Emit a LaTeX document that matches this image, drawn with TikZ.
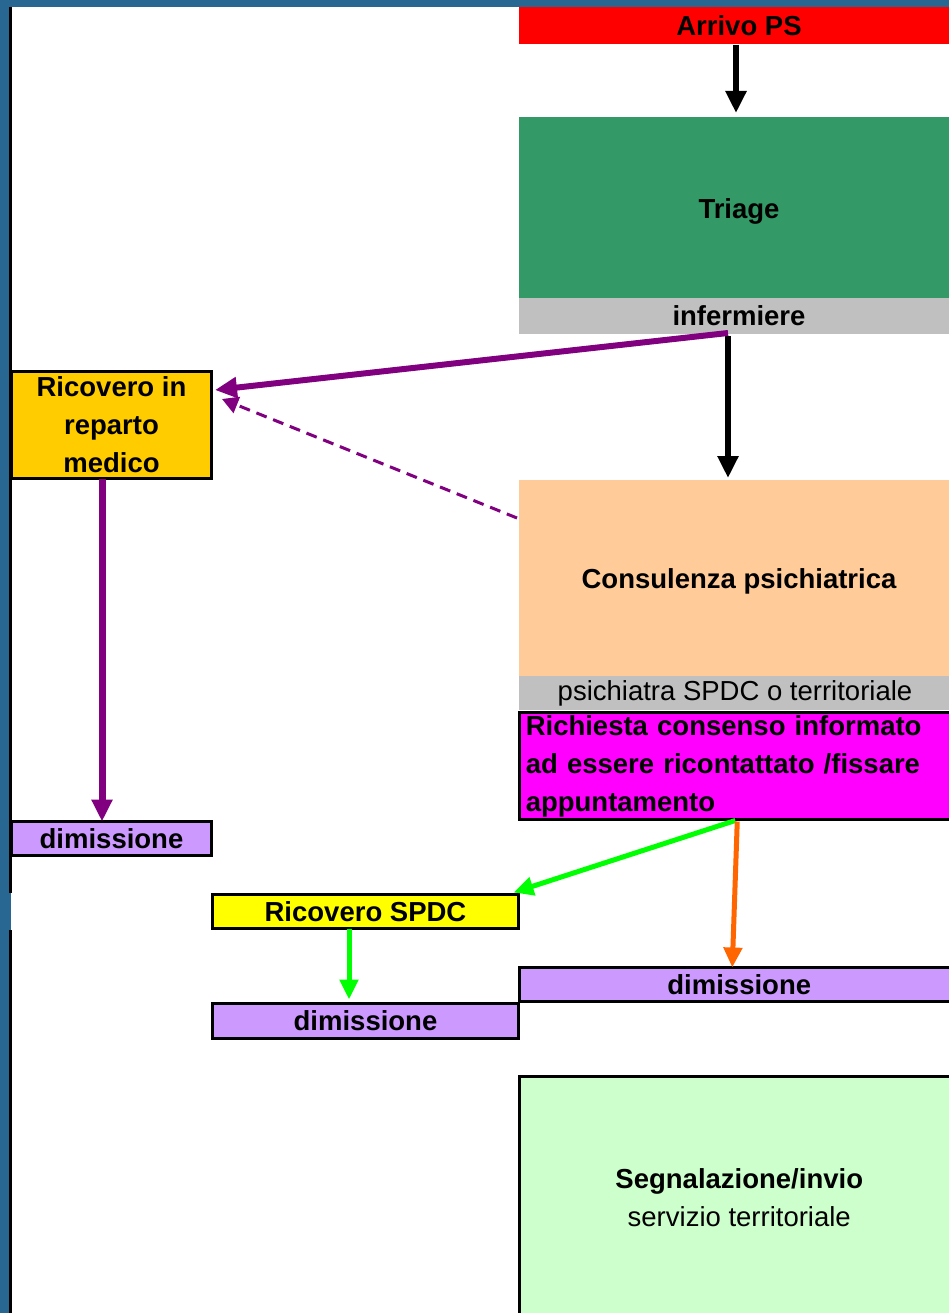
\documentclass[tikz,border=0pt]{standalone}
\usepackage{fontspec}
\setmainfont{Liberation Sans}
\usetikzlibrary{arrows.meta,calc}
\definecolor{frameblue}{HTML}{276792}
\definecolor{triagegreen}{HTML}{339966}
\definecolor{lgray}{HTML}{C0C0C0}
\definecolor{medorange}{HTML}{FFCC00}
\definecolor{peach}{HTML}{FFCC99}
\definecolor{magentabox}{HTML}{FF00FF}
\definecolor{lav}{HTML}{CC99FF}
\definecolor{yel}{HTML}{FFFF00}
\definecolor{lgreen}{HTML}{CCFFCC}
\definecolor{purp}{HTML}{800080}
\definecolor{brgreen}{HTML}{00FF00}
\definecolor{orarrow}{HTML}{FF6600}
\begin{document}
\begin{tikzpicture}[x=1pt,y=-1pt,
  box/.style={rectangle, inner sep=0pt, outer sep=0pt, font=\fontsize{27.5}{38}\selectfont\bfseries, align=center},
  bordered/.style={box, draw=black, line width=3pt},
  arr/.style={line width=6pt, -{Triangle[width=20pt,length=22pt]}},
  garr/.style={line width=5pt, -{Triangle[width=18pt,length=20pt]}},
  pdash/.style={purp, line width=3pt, dash pattern=on 11pt off 7pt, -{Triangle[width=17pt,length=16pt]}}
]
\useasboundingbox (0,0) rectangle (949,1313);
\clip (0,0) rectangle (949,1313);
\fill[white] (0,0) rectangle (949,1313);
% frame
\fill[frameblue] (0,0) rectangle (949,7);
\fill[frameblue] (0,0) rectangle (9,1313);
\fill[frameblue] (9,893) rectangle (11,930);
\fill[black] (9,7) rectangle (12,893);
\fill[black] (9,930) rectangle (12,1313);
% nodes
\node[box, fill=red, minimum width=440pt, minimum height=37pt] (arrivo) at (739,25.5) {Arrivo PS};
\node[box, fill=triagegreen, minimum width=440pt, minimum height=181pt] (triage) at (739,207.5) {\raisebox{-11.5pt}[0pt][0pt]{Triage}};
\node[box, fill=lgray, minimum width=440pt, minimum height=36pt] (inferm) at (739,316) {infermiere};
\node[bordered, fill=medorange, minimum width=200pt, minimum height=107pt] (ricmed) at (111.5,425) {Ricovero in\\reparto\\medico};
\node[box, fill=peach, minimum width=440pt, minimum height=196pt] (consul) at (739,578) {\raisebox{-10pt}[0pt][0pt]{Consulenza psichiatrica}};
\node[box, fill=lgray, font=\fontsize{27.5}{38}\selectfont, minimum width=440pt, minimum height=34pt] (psich) at (739,693) {psichiatra SPDC o territoriale\hspace*{8pt}};
\node[bordered, fill=magentabox, minimum width=439pt, minimum height=107pt, text width=427pt, align=left] (rich) at (739.25,766) {Richiesta consenso informato\\ad essere ricontattato /fissare\\appuntamento};
\node[bordered, fill=lav, minimum width=200pt, minimum height=34pt] (dimL) at (111.5,838.5) {dimissione};
\node[bordered, fill=yel, minimum width=306pt, minimum height=34pt] (ricspdc) at (365.5,911.5) {Ricovero SPDC};
\node[bordered, fill=lav, minimum width=306pt, minimum height=35pt] (dimM) at (365.5,1021) {dimissione};
\node[bordered, fill=lav, minimum width=439pt, minimum height=34pt] (dimR) at (739.25,984.5) {dimissione};
\node[bordered, fill=lgreen, minimum width=439pt, minimum height=243pt] (segn) at (739.25,1198) {Segnalazione/invio\\\normalfont\fontsize{27.5}{38}\selectfont servizio territoriale};
% connectors
\draw[arr, black] ($(arrivo.south)+(-3,1)$) -- ($(triage.north)+(-3,-4)$);
\draw[arr, black] ($(inferm.south)+(-11,2)$) -- ($(consul.north)+(-11,-2)$);
\draw[arr, purp] ($(inferm.south)+(-11,-1)$) -- ($(ricmed.east)+(3.5,-35)$);
\draw[pdash] ($(consul.north west)+(-2,38)$) -- ($(ricmed.east)+(10.5,-26)$);
\draw[arr, purp, line width=7pt] ($(ricmed.south)+(-9.5,0)$) -- ($(dimL.north)+(-9.5,0)$);
\draw[garr, brgreen] ($(rich.south)+(-4,1)$) -- ($(ricspdc.north east)+(-5,-2)$);
\draw[garr, orarrow] ($(rich.south)+(-2,2)$) -- ($(dimR.north)+(-7,0)$);
\draw[garr, brgreen] ($(ricspdc.south)+(-16.5,0)$) -- ($(dimM.north)+(-16.5,-4)$);
\end{tikzpicture}
\end{document}
